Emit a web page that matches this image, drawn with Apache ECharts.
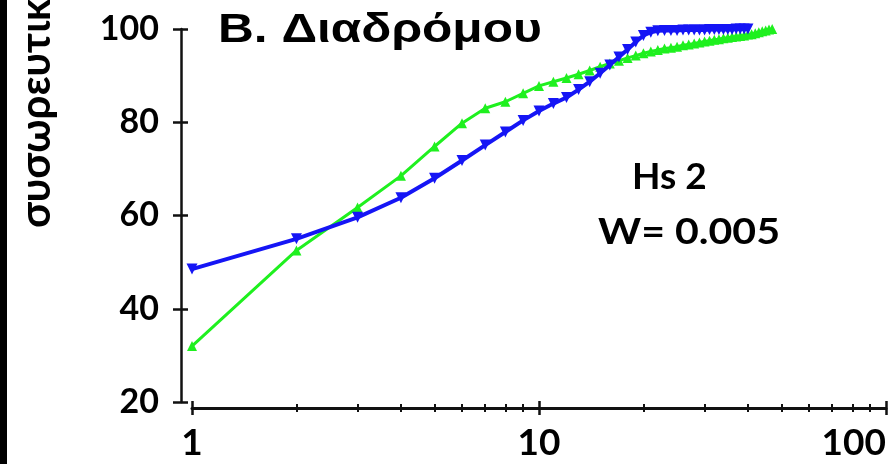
<!DOCTYPE html>
<html>
<head>
<meta charset="utf-8">
<script src="https://cdn.jsdelivr.net/npm/echarts@6/dist/echarts.min.js"></script>
<style>
  html, body { margin: 0; padding: 0; background: #ffffff; }
  #chart { width: 893px; height: 464px; }
</style>
</head>
<body>
<div id="chart"></div>
<script>
// Particle size classes (log scale) and cumulative percentages
const blueSizes = [1, 2, 3, 4, 5, 6, 7, 8, 9, 10, 11, 12, 13, 14, 15, 16, 17, 18, 19, 20,
  21, 22, 23, 24, 25, 26, 27, 28, 29, 30, 31, 32, 33, 34, 35, 36, 37, 38, 39, 40];
const blueValues = [48.5, 55.0, 59.6, 63.8, 68.0, 71.8, 75.1, 77.9, 80.4, 82.4, 84.0, 85.3, 87.0, 88.7, 90.5, 92.3, 94.0, 95.6, 97.2, 98.6,
  99.3, 99.6, 99.7, 99.7, 99.7, 99.8, 99.8, 99.8, 99.8, 99.8, 99.9, 99.9, 99.9, 99.9, 99.9, 99.9, 100, 100, 100, 100];

const greenSizes = [1, 2, 3, 4, 5, 6, 7, 8, 9, 10, 11, 12, 13, 14, 15, 16, 17, 18, 19, 20,
  21, 22, 23, 24, 25, 26, 27, 28, 29, 30, 31, 32, 33, 34, 35, 36, 37, 38, 39, 40,
  41, 42, 43, 44, 45, 46, 47];
const greenValues = [32.0, 52.5, 61.7, 68.5, 74.8, 79.8, 83.0, 84.4, 86.2, 87.8, 88.7, 89.5, 90.3, 91.1, 91.9, 92.6, 93.2, 93.8, 94.3, 94.8,
  95.2, 95.5, 95.8, 96.0, 96.2, 96.5, 96.7, 96.9, 97.1, 97.3, 97.5, 97.7, 97.8, 98.0, 98.1, 98.3, 98.4, 98.5, 98.6, 98.8,
  98.9, 99.1, 99.3, 99.5, 99.7, 99.9, 100.0];

const yTicks = [20, 40, 60, 80, 100];
const titleText = 'Β. Διαδρόμου';
const yTitleText = 'συσωρευτικ';
const noteLines = ['Hs 2', 'W= 0.005'];

const ink = '#111111';
const pairs = (xs, ys) => xs.map((x, i) => [x, ys[i]]);

const chart = echarts.init(document.getElementById('chart'), null, { renderer: 'canvas' });

const labelFont = { fontFamily: 'Lato', fontWeight: 'bold', color: '#000' };

const option = {
  animation: false,
  backgroundColor: '#ffffff',
  grid: { left: 192, right: 7, top: 29, bottom: 62, containLabel: false, outerBoundsMode: 'none' },
  xAxis: [
    {
      type: 'log', logBase: 10, min: 1, max: 100, position: 'bottom', offset: 6,
      axisLine: { show: true, onZero: false, lineStyle: { color: ink, width: 3 } },
      axisTick: { show: true, inside: false, length: 7, lineStyle: { color: ink, width: 2.5 } },
      minorTick: { show: true, splitNumber: 9, length: 4, lineStyle: { color: ink, width: 2 } },
      axisLabel: Object.assign({ fontSize: 37, margin: 17, hideOverlap: false, alignMaxLabel: 'right' }, labelFont),
      splitLine: { show: false }, minorSplitLine: { show: false }
    },
    {
      type: 'log', logBase: 10, min: 1, max: 100, position: 'bottom', offset: 6,
      axisLine: { show: false, onZero: false },
      axisTick: { show: true, inside: true, length: 7, lineStyle: { color: ink, width: 2.5 } },
      minorTick: { show: true, splitNumber: 9, length: 4, lineStyle: { color: ink, width: 2 } },
      axisLabel: { show: false },
      splitLine: { show: false }, minorSplitLine: { show: false }
    }
  ],
  yAxis: [
    {
      type: 'value', min: yTicks[0], max: yTicks[yTicks.length - 1], interval: 20, position: 'left', offset: 11,
      axisLine: { show: true, onZero: false, lineStyle: { color: ink, width: 2.5 } },
      axisTick: { show: true, inside: false, length: 8, lineStyle: { color: ink, width: 2.5 } },
      axisLabel: Object.assign({ fontSize: 34, margin: 22 }, labelFont),
      splitLine: { show: false }
    },
    {
      type: 'value', min: yTicks[0], max: yTicks[yTicks.length - 1], interval: 20, position: 'left', offset: 11,
      axisLine: { show: false, onZero: false },
      axisTick: { show: true, inside: true, length: 7, lineStyle: { color: ink, width: 2.5 } },
      axisLabel: { show: false },
      splitLine: { show: false }
    }
  ],
  series: [
    {
      name: 'green', type: 'line', xAxisIndex: 0, yAxisIndex: 0,
      data: pairs(greenSizes, greenValues),
      symbol: 'triangle', symbolSize: 10,
      itemStyle: { color: '#1ff01f' },
      lineStyle: { color: '#1ff01f', width: 3 },
      z: 2
    },
    {
      name: 'blue', type: 'line', xAxisIndex: 0, yAxisIndex: 0,
      data: pairs(blueSizes, blueValues),
      symbol: 'triangle', symbolRotate: 180, symbolSize: 11,
      itemStyle: { color: '#1515f5' },
      lineStyle: { color: '#1515f5', width: 4 },
      z: 3
    }
  ],
  graphic: [
    { type: 'rect', left: 0, top: 0, shape: { width: 7, height: 464 }, style: { fill: '#000' }, silent: true },
    {
      type: 'text', x: 218, y: 31, scaleX: 1.24,
      style: { text: titleText, font: 'bold 40px "Liberation Sans", Arial, sans-serif', fill: '#000',
               textAlign: 'left', align: 'left', textVerticalAlign: 'middle', verticalAlign: 'middle' }
    },
    {
      type: 'text', x: 36, y: 228, rotation: Math.PI / 2,
      style: { text: yTitleText, font: 'bold 42px Lato, sans-serif', fill: '#000',
               textAlign: 'left', align: 'left', textVerticalAlign: 'middle', verticalAlign: 'middle' }
    },
    {
      type: 'text', x: 632, y: 177,
      style: { text: noteLines[0], font: 'bold 37px Lato, sans-serif', fill: '#000',
               textAlign: 'left', align: 'left', textVerticalAlign: 'middle', verticalAlign: 'middle' }
    },
    {
      type: 'text', x: 598, y: 232, scaleX: 1.11,
      style: { text: noteLines[1], font: 'bold 37px Lato, sans-serif', fill: '#000',
               textAlign: 'left', align: 'left', textVerticalAlign: 'middle', verticalAlign: 'middle' }
    }
  ]
};

chart.setOption(option);
</script>
</body>
</html>
